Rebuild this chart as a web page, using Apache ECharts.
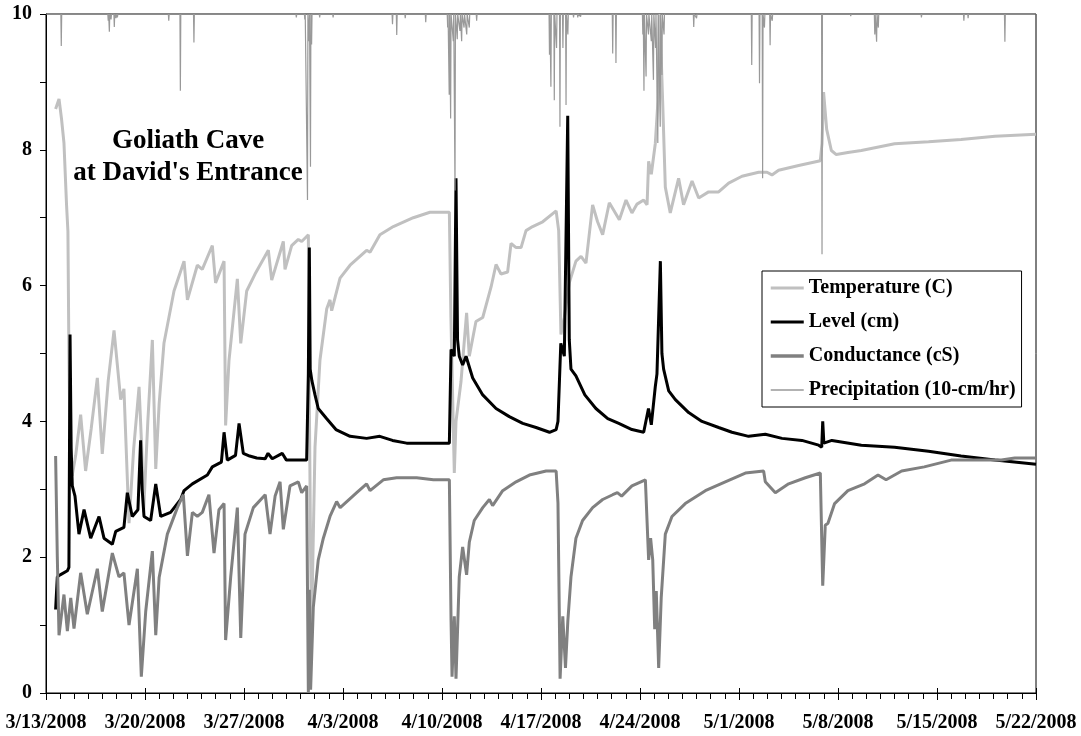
<!DOCTYPE html>
<html>
<head>
<meta charset="utf-8">
<script src="https://cdn.jsdelivr.net/npm/echarts@6/dist/echarts.min.js"></script>
<style>
html,body{margin:0;padding:0;background:#fff;}
#chart{width:1081px;height:736px;}
</style>
</head>
<body>
<div id="chart"></div>
<script>
// x = days since 3/13/2008
const xTickLabels = ['3/13/2008','3/20/2008','3/27/2008','4/3/2008','4/10/2008','4/17/2008','4/24/2008','5/1/2008','5/8/2008','5/15/2008','5/22/2008'];
const seriesNames = ['Temperature (C)','Level (cm)','Conductance (cS)','Precipitation (10-cm/hr)'];
const titleLines = ['Goliath Cave',"at David's Entrance"];

const temperature = [
[0.68,8.6],[0.92,8.75],[1.1,8.45],[1.27,8.1],[1.45,7.2],[1.55,6.8],[1.62,5.0],[1.72,3.4],[1.85,3.2],[2.1,3.5],[2.45,4.1],[2.8,3.27],[3.2,3.9],[3.63,4.64],[3.98,3.52],[4.4,4.6],[4.81,5.34],[5.28,4.32],[5.51,4.48],[5.87,2.5],[6.2,3.6],[6.58,4.51],[6.77,3.6],[6.9,2.66],[7.2,4.0],[7.52,5.2],[7.76,3.3],[8.0,4.26],[8.34,5.15],[9.05,5.92],[9.76,6.36],[10.0,5.79],[10.7,6.3],[11.05,6.24],[11.76,6.59],[11.99,6.04],[12.59,6.36],[12.7,3.94],[12.94,4.9],[13.53,6.1],[13.77,5.15],[14.19,5.92],[14.78,6.17],[15.72,6.52],[15.96,6.08],[16.78,6.65],[16.9,6.24],[17.37,6.59],[17.84,6.68],[18.08,6.65],[18.55,6.75],[18.62,4.26],[18.71,2.03],[18.78,1.0],[19.02,3.62],[19.37,4.9],[19.85,5.66],[20.08,5.79],[20.2,5.63],[20.79,6.11],[21.5,6.3],[22.67,6.52],[22.91,6.49],[23.61,6.75],[24.56,6.87],[25.97,7.0],[27.15,7.08],[28.52,7.08],[28.63,5.53],[28.87,3.24],[28.99,4.0],[29.34,4.58],[29.74,5.6],[29.93,4.96],[30.4,5.47],[30.88,5.53],[31.47,5.98],[31.82,6.31],[32.17,6.17],[32.64,6.2],[32.88,6.62],[33.24,6.56],[33.59,6.56],[33.94,6.81],[34.41,6.87],[35.12,6.94],[36.07,7.1],[36.25,6.81],[36.41,5.28],[36.65,5.53],[37.0,6.04],[37.47,6.36],[37.83,6.43],[38.18,6.33],[38.65,7.19],[39.0,6.94],[39.36,6.75],[39.83,7.22],[40.54,6.97],[41.01,7.26],[41.43,7.07],[41.79,7.2],[42.26,7.26],[42.5,7.19],[42.61,7.83],[42.8,7.64],[43.08,8.09],[43.27,8.72],[43.37,10.0],[43.5,9.36],[43.6,8.72],[43.79,7.45],[44.14,7.07],[44.73,7.58],[45.08,7.19],[45.68,7.54],[46.15,7.29],[46.85,7.38],[47.56,7.38],[48.27,7.51],[49.21,7.61],[50.39,7.67],[50.98,7.67],[51.33,7.63],[51.8,7.7],[53.22,7.77],[54.75,7.84],[54.87,8.09],[54.98,8.85],[55.2,8.3],[55.53,7.99],[55.88,7.93],[56.7,7.96],[57.65,7.99],[60.0,8.09],[62.4,8.12],[64.7,8.15],[67.1,8.2],[70,8.23]
];

const level = [
[0.68,1.23],[0.8,1.71],[1.0,1.74],[1.51,1.8],[1.62,1.85],[1.7,5.28],[1.78,3.6],[1.86,3.05],[2.05,2.9],[2.33,2.34],[2.69,2.7],[3.16,2.28],[3.75,2.6],[4.1,2.28],[4.69,2.19],[4.93,2.38],[5.51,2.44],[5.75,2.95],[6.1,2.6],[6.5,2.7],[6.69,3.72],[6.8,3.0],[6.93,2.6],[7.4,2.54],[7.76,3.08],[8.11,2.6],[8.81,2.66],[9.52,2.85],[9.76,2.98],[10.35,3.08],[11.41,3.21],[11.76,3.33],[12.4,3.4],[12.59,3.84],[12.82,3.43],[13.4,3.5],[13.65,3.97],[13.95,3.53],[14.4,3.49],[14.9,3.46],[15.5,3.45],[15.7,3.53],[16.0,3.45],[16.7,3.53],[17.0,3.43],[18.43,3.43],[18.55,4.7],[18.62,6.56],[18.68,4.77],[18.8,4.6],[19.02,4.39],[19.25,4.19],[19.85,4.04],[20.5,3.88],[21.5,3.78],[22.67,3.75],[23.6,3.78],[24.5,3.72],[25.5,3.68],[27.9,3.68],[28.52,3.68],[28.64,5.06],[28.87,4.96],[28.99,7.58],[29.1,5.2],[29.22,4.96],[29.46,4.83],[29.7,4.96],[30.17,4.64],[30.88,4.39],[31.82,4.19],[32.76,4.07],[33.71,3.97],[34.65,3.91],[35.6,3.84],[36.07,3.88],[36.2,4.0],[36.4,5.15],[36.65,4.96],[36.89,8.5],[37.0,5.2],[37.12,4.77],[37.47,4.67],[38.1,4.39],[38.88,4.19],[39.72,4.04],[40.5,3.97],[41.43,3.88],[42.26,3.84],[42.6,4.19],[42.8,3.95],[43.08,4.51],[43.2,4.7],[43.44,6.36],[43.55,5.0],[43.67,4.77],[44.03,4.45],[44.5,4.32],[45.44,4.13],[46.38,4.0],[47.56,3.91],[48.5,3.84],[49.68,3.78],[50.86,3.81],[52.04,3.75],[53.45,3.72],[54.63,3.65],[54.85,3.62],[54.92,4.0],[55.0,3.68],[55.57,3.72],[57.65,3.65],[60.0,3.62],[62.4,3.56],[64.7,3.49],[67.1,3.43],[70,3.37]
];

const conductance = [
[0.68,3.49],[0.8,2.0],[0.92,0.85],[1.27,1.45],[1.51,0.91],[1.75,1.4],[1.98,0.95],[2.45,1.77],[2.92,1.16],[3.63,1.83],[3.98,1.2],[4.69,2.06],[5.16,1.71],[5.51,1.77],[5.87,1.0],[6.46,1.83],[6.74,0.24],[7.05,1.2],[7.52,2.09],[7.76,0.85],[8.0,1.7],[8.58,2.34],[9.29,2.73],[9.71,2.92],[10.0,2.02],[10.35,2.66],[10.7,2.6],[11.05,2.66],[11.52,2.92],[11.88,2.06],[12.23,2.7],[12.59,2.79],[12.7,0.78],[13.06,1.71],[13.53,2.73],[13.77,0.81],[14.07,2.34],[14.66,2.73],[15.5,2.92],[15.84,2.34],[16.2,2.9],[16.55,3.11],[16.78,2.41],[17.25,3.05],[17.84,3.11],[18.08,2.95],[18.43,3.05],[18.55,0.0],[18.62,1.52],[18.71,0.05],[18.9,1.26],[19.25,1.96],[19.61,2.28],[20.08,2.6],[20.55,2.82],[20.8,2.73],[21.97,2.95],[22.67,3.08],[22.91,2.98],[23.85,3.14],[24.79,3.17],[26.21,3.17],[27.39,3.14],[28.52,3.14],[28.64,1.07],[28.71,0.24],[28.87,1.13],[28.99,0.21],[29.22,1.71],[29.46,2.15],[29.74,1.74],[29.93,2.22],[30.28,2.54],[30.88,2.73],[31.35,2.85],[31.58,2.76],[32.29,2.98],[33.24,3.11],[34.18,3.21],[35.36,3.27],[36.07,3.27],[36.2,2.8],[36.35,0.21],[36.54,1.13],[36.73,0.37],[36.9,1.07],[37.12,1.71],[37.47,2.28],[37.94,2.54],[38.65,2.73],[39.36,2.85],[40.07,2.92],[40.4,2.95],[40.7,2.9],[41.43,3.05],[42.38,3.14],[42.61,1.96],[42.75,2.28],[42.9,1.96],[43.04,0.94],[43.15,1.5],[43.32,0.37],[43.5,1.4],[43.79,2.34],[44.26,2.6],[45.2,2.79],[46.62,2.98],[48.03,3.11],[49.45,3.24],[50.74,3.27],[50.86,3.11],[51.57,2.95],[52.51,3.08],[53.69,3.17],[54.75,3.24],[54.92,1.58],[55.1,2.47],[55.29,2.5],[55.76,2.79],[56.7,2.98],[57.88,3.08],[58.83,3.21],[59.4,3.14],[60.5,3.27],[62.1,3.33],[64.0,3.43],[65.9,3.43],[67.55,3.43],[68.5,3.46],[70,3.46]
];

// precipitation events: [day, amount] (plotted hanging down from 10)
const precipitation = [
[1.08,0.47],[4.4,0.1],[4.48,0.26],[4.6,0.08],[4.83,0.19],[4.95,0.06],[5.05,0.05],[8.68,0.1],[9.5,1.13],[10.46,0.42],[17.7,0.05],[18.3,0.08],[18.49,2.74],[18.6,0.4],[18.7,2.25],[18.78,0.45],[19.35,0.05],[20.3,0.05],[24.5,0.15],[24.8,0.31],[25.4,0.06],[26.85,0.12],[28.4,0.2],[28.51,1.19],[28.61,1.54],[28.8,0.4],[28.92,2.6],[29.08,0.37],[29.27,0.25],[29.39,0.4],[29.56,0.2],[29.75,0.3],[29.93,0.2],[30.45,0.1],[35.6,0.6],[35.7,1.07],[35.94,1.27],[36.1,0.5],[36.34,1.66],[36.55,0.5],[36.77,1.34],[36.9,0.3],[37.3,0.05],[37.6,0.05],[37.8,0.04],[40.07,0.58],[40.3,0.72],[42.2,0.3],[42.28,1.13],[42.43,0.92],[42.6,0.3],[42.8,0.4],[42.95,0.97],[43.1,0.5],[43.26,1.9],[43.43,1.66],[43.55,0.9],[43.7,0.3],[45.8,0.19],[46.0,0.06],[49.9,0.75],[50.45,1.02],[50.67,2.42],[50.8,0.2],[51.2,0.46],[51.35,0.1],[54.87,3.54],[56.9,0.03],[58.6,0.3],[58.73,0.41],[58.85,0.2],[61.9,0.05],[64.9,0.1],[65.2,0.06],[67.8,0.41]
];

function precipLine(events){
  const out = [[0,10]];
  events.forEach(([d,a]) => { out.push([d-0.03,10],[d,10-a],[d+0.03,10]); });
  out.push([70,10]);
  return out;
}

const colors = ['#c0c0c0','#000000','#808080','#999999'];
const widths = [3,3,3,1.2];
const legendWidths = [3,3,3.5,1.5];

const FONT = '"Liberation Serif","Times New Roman",serif';
const chart = echarts.init(document.getElementById('chart'), null, {renderer:'canvas'});
chart.setOption({
  animation:false,
  backgroundColor:'#fff',
  grid:{left:46,right:45,top:14,bottom:43,show:true,borderColor:'#000',borderWidth:1},
  legend:{
    show:true, orient:'vertical', left:762, top:271,
    backgroundColor:'#fff', borderColor:'#000', borderWidth:1,
    padding:[7,6,7,7], itemGap:14, itemWidth:33, itemHeight:14,
    itemStyle:{opacity:0,borderWidth:0},
    textStyle:{fontFamily:FONT,fontWeight:'bold',fontSize:20,lineHeight:20,color:'#000'},
    data:seriesNames.map((n,i)=>({name:n,lineStyle:{color:colors[i],width:legendWidths[i],opacity:1},itemStyle:{opacity:0}}))
  },
  graphic:[
    {type:'text',style:{text:titleLines[0],x:188,y:141,align:'center',verticalAlign:'middle',font:'bold 27px '+FONT,fill:'#000'}},
    {type:'text',style:{text:titleLines[1],x:188,y:173,align:'center',verticalAlign:'middle',font:'bold 27px '+FONT,fill:'#000'}}
  ],
  xAxis:[{
    type:'value',min:0,max:70,interval:7,
    axisLine:{show:true,lineStyle:{color:'#000',width:1}},
    axisTick:{show:true,length:7,inside:false,lineStyle:{color:'#000'}},
    minorTick:{show:true,splitNumber:7,length:6,lineStyle:{color:'#000'}},
    splitLine:{show:false},
    axisLabel:{margin:20,fontFamily:FONT,fontWeight:'bold',fontSize:20,color:'#000',
      formatter:v => xTickLabels[Math.round(v/7)] || ''}
  },{
    type:'value',min:0,max:70,interval:7,position:'bottom',
    axisLine:{show:false},axisTick:{show:true,inside:true,length:5,lineStyle:{color:'#000'}},
    axisLabel:{show:false},splitLine:{show:false}
  }],
  yAxis:{
    type:'value',min:0,max:10,interval:2,
    axisLine:{show:true,lineStyle:{color:'#000',width:1}},
    axisTick:{show:true,length:6,lineStyle:{color:'#000'}},
    minorTick:{show:true,splitNumber:2,length:6,lineStyle:{color:'#000'}},
    splitLine:{show:false},
    axisLabel:{margin:14,fontFamily:FONT,fontWeight:'bold',fontSize:20,color:'#000'}
  },
  series:seriesNames.map((n,i)=>({
    name:n,type:'line',
    data:[temperature,level,conductance,precipLine(precipitation)][i],
    symbol:'none',
    lineStyle:{color:colors[i],width:widths[i]},
    itemStyle:{color:colors[i]},
    z:2+i
  }))
});
</script>
</body>
</html>
